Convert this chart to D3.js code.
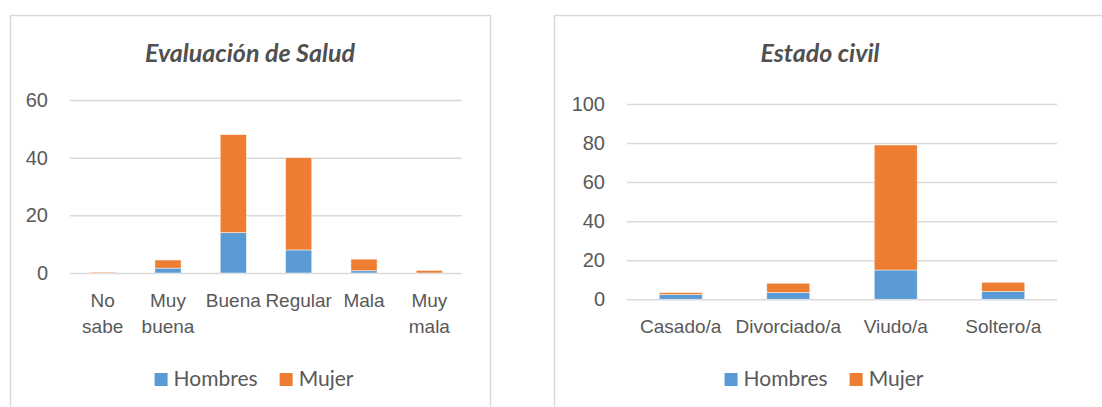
<!DOCTYPE html>
<html>
<head>
<meta charset="utf-8">
<script src="https://cdn.jsdelivr.net/npm/d3@7"></script>
<style>
  body { margin: 0; background: #ffffff; }
  svg { display: block; font-family: Lato, "Open Sans", sans-serif; }
  .tick text { fill: #595959; }
</style>
</head>
<body>
<svg id="chart" width="1102" height="407"></svg>
<script>
// Evaluación de Salud
const saludCats = ["No sabe", "Muy buena", "Buena", "Regular", "Mala", "Muy mala"];
const saludHombres = [0, 1.7, 14, 8, 0.8, 0];
const saludMujer = [0.3, 2.8, 34, 32, 4, 0.9];
const saludTicks = [0, 20, 40, 60];

// Estado civil
const civilCats = ["Casado/a", "Divorciado/a", "Viudo/a", "Soltero/a"];
const civilHombres = [2.4, 3.5, 15, 4];
const civilMujer = [1, 4.7, 64, 4.7];
const civilTicks = [0, 20, 40, 60, 80, 100];

const seriesNames = ["Hombres", "Mujer"];
const color = d3.scaleOrdinal().domain(seriesNames).range(["#5b9bd5", "#ed7d31"]);

const svg = d3.select("#chart");

function drawChart(opt) {
    let g = svg.append("g");

    // outer frame
    g.append("rect")
        .attr("x", opt.box[0] + 0.5).attr("y", opt.box[1] + 0.5)
        .attr("width", opt.box[2]).attr("height", opt.box[3])
        .attr("fill", "#fff")
        .attr("stroke", "#d9d9d9")
        .attr("stroke-width", 1.5);

    let rows = opt.cats.map(function(c, i) {
        return { cat: c, Hombres: opt.hombres[i], Mujer: opt.mujer[i] };
    });
    let stacked = d3.stack().keys(seriesNames)(rows);

    let x = d3.scaleBand()
        .domain(opt.cats)
        .range(opt.xr)
        .paddingInner(0.6)
        .paddingOuter(0.3);

    let y = d3.scaleLinear()
        .domain([0, d3.max(opt.ticks)])
        .range(opt.yr);

    // gridlines + y labels
    let yAxis = d3.axisLeft(y)
        .tickValues(opt.ticks)
        .tickSize(-(opt.xr[1] - opt.xr[0]))
        .tickPadding(22);
    let yg = g.append("g")
        .attr("transform", "translate(" + opt.xr[0] + ",0)")
        .call(yAxis);
    yg.select(".domain").remove();
    yg.selectAll(".tick line")
        .attr("stroke", "#d9d9d9")
        .attr("stroke-width", 1.5);
    yg.selectAll(".tick text")
        .style("font-size", "20px");

    // bars
    g.selectAll("g.series")
        .data(stacked)
        .enter()
        .append("g")
        .attr("class", "series")
        .attr("fill", function(d) { return color(d.key); })
        .selectAll("rect")
        .data(function(d) { return d; })
        .enter()
        .append("rect")
        .attr("x", function(d) { return x(d.data.cat); })
        .attr("y", function(d) { return y(d[1]); })
        .attr("width", x.bandwidth())
        .attr("height", function(d) { return y(d[0]) - y(d[1]); })
        .attr("stroke", "#ffffff")
        .attr("stroke-opacity", 0.6)
        .attr("stroke-width", 0.8);

    // category labels
    let xAxis = d3.axisBottom(x).tickSize(0).tickPadding(0).tickFormat("");
    let xg = g.append("g")
        .attr("transform", "translate(0," + opt.yr[0] + ")")
        .call(xAxis);
    xg.select(".domain").remove();
    xg.selectAll(".tick").each(function(d) {
        let words = opt.wrap ? d.split(" ") : [d];
        let t = d3.select(this).append("text")
            .attr("text-anchor", "middle")
            .style("font-size", "19px")
            .attr("fill", "#595959");
        words.forEach(function(w, i) {
            t.append("tspan")
                .attr("x", 0)
                .attr("y", 34 + i * 26)
                .text(w);
        });
    });

    // title
    g.append("text")
        .attr("x", opt.titleX)
        .attr("y", 62)
        .attr("text-anchor", "middle")
        .style("font-size", "25px")
        .style("font-weight", "bold")
        .style("font-style", "italic")
        .attr("fill", "#505050")
        .text(opt.title);

    // legend
    let leg = g.append("g");
    let items = leg.selectAll("g")
        .data(seriesNames)
        .enter()
        .append("g");
    items.append("rect")
        .attr("width", 13).attr("height", 13)
        .attr("y", -13)
        .attr("fill", function(d) { return color(d); });
    items.append("text")
        .attr("x", 19)
        .attr("y", 0)
        .style("font-size", "21px")
        .attr("fill", "#595959")
        .text(function(d) { return d; });
    let offset = 0;
    items.each(function() {
        let w = d3.select(this).select("text").node().getComputedTextLength() + 19;
        d3.select(this).attr("transform", "translate(" + offset + ",0)");
        offset += w + 22;
    });
    offset -= 22;
    leg.attr("transform", "translate(" + (opt.legendX - offset / 2) + "," + 386 + ")");
}

drawChart({
    box: [10, 15, 480, 420],
    cats: saludCats, hombres: saludHombres, mujer: saludMujer, ticks: saludTicks,
    xr: [70, 462], yr: [273, 100],
    wrap: true,
    title: "Evaluación de Salud", titleX: 250,
    legendX: 254
});

drawChart({
    box: [554, 15, 600, 420],
    cats: civilCats, hombres: civilHombres, mujer: civilMujer, ticks: civilTicks,
    xr: [627, 1057], yr: [299.3, 104],
    wrap: false,
    title: "Estado civil", titleX: 820,
    legendX: 824
});
</script>
</body>
</html>
